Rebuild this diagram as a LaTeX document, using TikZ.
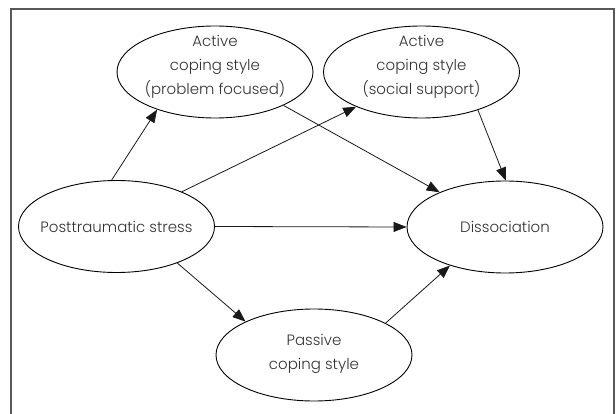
\documentclass[tikz,border=0pt]{standalone}
\usepackage{fontspec}
\setmainfont{Poppins}[UprightFont=* Light]
\usetikzlibrary{shapes.geometric,arrows.meta}
\definecolor{txt}{HTML}{333333}
\begin{document}
\begin{tikzpicture}[x=1pt,y=-1pt,
  oval/.style={draw=black, line width=0.9pt, ellipse, minimum width=196pt, minimum height=92pt, inner sep=0pt},
  lbl/.style={text=txt, font=\fontsize{15}{24}\selectfont, align=center, inner sep=0pt},
  conn/.style={draw=black!90, line width=0.8pt, -{Triangle[length=13pt,width=10pt]}},
  frame/.style={draw=black!65, line width=1.1pt}]
\useasboundingbox (0,0) rectangle (616,414);
\draw[frame] (11,414) -- (11,9) -- (614,9) -- (614,414);
\node[oval, label={[lbl,yshift=5pt]center:Active\\coping style\\(problem focused)}] (tl) at (215,72) {};
\node[oval, label={[lbl,yshift=5pt]center:Active\\coping style\\(social support)}] (tr) at (421.5,72) {};
\node[oval, label={[lbl]center:Posttraumatic stress}] (pts) at (116.5,226.5) {};
\node[oval, label={[lbl]center:Dissociation}] (dis) at (505,227) {};
\node[oval, label={[lbl,yshift=1pt]center:Passive\\coping style}] (pas) at (314,355) {};
\draw[conn] (pts.96) -- (tl.213);
\draw[conn] (pts.28.5) -- (tr.208.6);
\draw[conn] (pts.east) -- (dis.west);
\draw[conn] (pts.-31.8) -- (pas.154.4);
\draw[conn] (tl.-26.6) -- (dis.152.8);
\draw[conn] (tr.-34) -- (dis.89);
\draw[conn] (pas.24.6) -- (dis.215.7);
\end{tikzpicture}
\end{document}
